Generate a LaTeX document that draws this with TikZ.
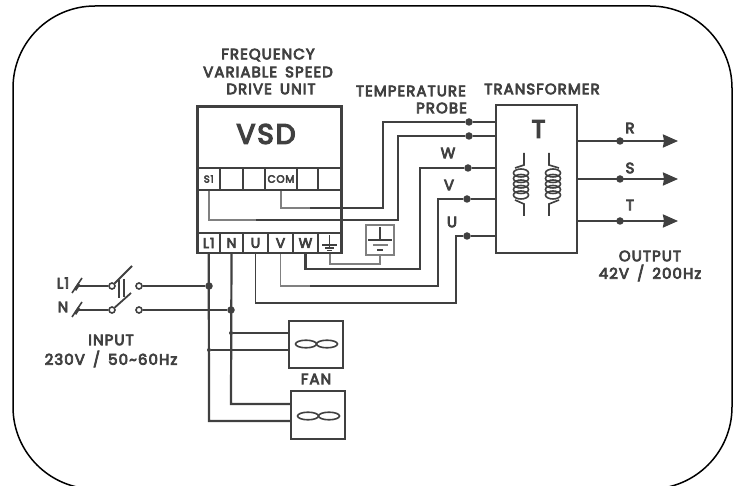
\documentclass[tikz,border=0pt]{standalone}
\usepackage{fontspec}
\setmainfont{Poppins}[LetterSpace=7,FakeBold=5,WordSpace=1.6]
\usepackage{tikz}
\definecolor{ink}{HTML}{404040}
\definecolor{pale}{HTML}{808080}
\tikzset{
  wire/.style={draw=ink,line width=2.2pt},
  palewire/.style={draw=pale,line width=1.5pt},
  unit/.style={draw=ink,line width=2.8pt,fill=white,inner sep=0pt},
  cell/.style={draw=ink,line width=2.2pt,inner sep=0pt,text=ink,font=\fontsize{14}{14}\selectfont},
  label/.style={text=ink,inner sep=0pt,align=center,font=\fontsize{15}{17}\selectfont},
  wiredot/.style={circle,fill=ink,inner sep=0pt,minimum size=7.5pt},
  smalldot/.style={circle,fill=ink,inner sep=0pt,minimum size=4pt},
  contact/.style={circle,draw=ink,line width=1.6pt,fill=white,inner sep=0pt,minimum size=6pt},
  outarrow/.style={wire,-{Stealth[length=15pt,width=13pt,inset=1pt]}},
}
\usetikzlibrary{arrows.meta}
\begin{document}
\begin{tikzpicture}[x=1pt,y=-1pt]
  \clip (0,0) rectangle (737,486);
  \fill[white] (0,0) rectangle (737,486);
  \draw[black,line width=1.5pt,rounded corners=82pt] (13,6) rectangle (732,489);
  % drive unit
  \node[unit,minimum width=144pt,minimum height=146.5pt] (vsd) at (269.5,179.75) {};
  \node[text=ink,font=\fontsize{28}{28}\selectfont,inner sep=0pt] (vsdname) at (266,134) {VSD};
  \node[cell,minimum width=22.5pt,minimum height=22pt] (s1) at (208.75,179) {\fontsize{10}{10}\selectfont S1};
  \node[cell,minimum width=23pt,minimum height=22pt] (blanka) at (231.5,179) {};
  \node[cell,minimum width=22pt,minimum height=22pt] (blankb) at (254,179) {};
  \node[cell,minimum width=32pt,minimum height=22pt] (com) at (281,179) {\fontsize{10.5}{10}\selectfont COM};
  \node[cell,minimum width=21pt,minimum height=22pt] (blankc) at (307.5,179) {};
  \node[cell,minimum width=23.5pt,minimum height=22pt] (blankd) at (329.75,179) {};
  \node[cell,minimum width=22.5pt,minimum height=20pt] (tl) at (208.75,243) {L1};
  \node[cell,minimum width=23pt,minimum height=20pt] (tn) at (231.5,243) {N};
  \node[cell,minimum width=25pt,minimum height=20pt] (tu) at (255.5,243) {U};
  \node[cell,minimum width=25pt,minimum height=20pt] (tv) at (280.5,243) {V};
  \node[cell,minimum width=25pt,minimum height=20pt] (tw) at (305.5,243) {W};
  \node[cell,minimum width=23.5pt,minimum height=20pt] (te) at (329.75,243) {};
  \draw[wire,line width=1.3pt] (te.north) ++(0,3) -- ++(0,14);
  \draw[wire,line width=1.3pt] (322,245) -- (337,245);
  \draw[wire,line width=1.3pt] (325,248) -- (334,248);
  \draw[wire,line width=1.8pt] (327,250.5) -- (332,250.5);
  % transformer
  \node[unit,minimum width=81pt,minimum height=148pt] (trafo) at (536.5,179) {};
  \node[text=ink,font=\fontsize{25}{25}\selectfont,inner sep=0pt] (trafoname) at (538.5,129) {T};
  \draw[wire,line width=1.6pt] (524,153) -- (524,165) -- (515,168);
  \draw[wire,line width=1.6pt] (524,216) -- (524,204) -- (515,200);
  \draw[wire,line width=1.6pt] (549,153) -- (549,165) -- (559,168);
  \draw[wire,line width=1.6pt] (549,216) -- (549,204) -- (559,200);
  \foreach \y in {173,178.5,184,189.5,195} {
    \draw[wire,line width=1.6pt] (521,\y) ellipse (7.5 and 4);
    \draw[wire,line width=1.6pt] (553,\y) ellipse (7.5 and 4);
  }
  % earth bar
  \node[draw=pale,line width=1.8pt,minimum width=28pt,minimum height=30pt,inner sep=0pt] (earth) at (380,240) {};
  \draw[wire,line width=1.4pt] (earth.north) ++(0,3) -- (380,240);
  \draw[wire,line width=1.6pt] (368,240) -- (392,240);
  \draw[palewire] (373,245) -- (388,245);
  \draw[wire,line width=1.3pt] (377,250) -- (383,250);
  \coordinate (earthbend) at (380,264);
  \draw[palewire] (te.south) |- (earthbend) -- (earth.south);
  % dots on the transformer side
  \node[wiredot] (dota) at (469,122) {};
  \node[wiredot] (dotb) at (469,136) {};
  \node[wiredot] (dotw) at (468,168) {};
  \node[wiredot] (dotv) at (467,199) {};
  \node[wiredot] (dotu) at (467,236) {};
  % control wires
  \coordinate (coma) at (310,208);
  \coordinate (comb) at (383,208);
  \draw[palewire] (com.south) |- (coma);
  \draw[wire] (coma) -- (comb) |- (dota) -- (dota-|trafo.west);
  \coordinate (sa) at (256,220);
  \coordinate (sb) at (398,220);
  \draw[palewire] (s1.south) |- (sa);
  \draw[wire] (sa) -- (sb) |- (dotb) -- (dotb-|trafo.west);
  % motor wires
  \coordinate (wa) at (330,269);
  \coordinate (wb) at (420,269);
  \draw[wire] (tw.south) |- (wa) -- (wb) |- (dotw) -- (dotw-|trafo.west);
  \coordinate (va) at (310,286);
  \coordinate (vb) at (438,286);
  \draw[palewire] (tv.south) |- (va);
  \draw[wire] (va) -- (vb) |- (dotv) -- (dotv-|trafo.west);
  \coordinate (ua) at (285,303);
  \coordinate (ub) at (456,303);
  \draw[wire,line width=1.8pt] (tu.south) |- (ua);
  \draw[wire] (ua) -- (ub) |- (dotu) -- (dotu-|trafo.west);
  % outputs
  \node[wiredot] (dotr) at (620,141) {};
  \node[wiredot] (dots) at (620,179) {};
  \node[wiredot] (dott) at (620,221) {};
  \coordinate (outr) at (678,141);
  \coordinate (outs) at (678,179);
  \coordinate (outt) at (678,221);
  \draw[outarrow] (dotr-|trafo.east) -- (outr);
  \draw[outarrow] (dots-|trafo.east) -- (outs);
  \draw[outarrow] (dott-|trafo.east) -- (outt);
  % fans
  \node[unit,line width=2.2pt,minimum width=54pt,minimum height=47pt] (fana) at (316,344.5) {};
  \node[unit,line width=2.2pt,minimum width=54pt,minimum height=48pt] (fanb) at (318,415) {};
  \draw[wire,line width=1.6pt] (306,344) ellipse (10.5 and 3.8);
  \draw[wire,line width=1.6pt] (327,344) ellipse (10.5 and 3.8);
  \draw[wire,line width=1.6pt] (308,416) ellipse (10.5 and 3.8);
  \draw[wire,line width=1.6pt] (329,416) ellipse (10.5 and 3.8);
  % supply
  \node[contact] (swla) at (112,286) {};
  \node[contact] (swlb) at (139,286) {};
  \node[contact] (swna) at (112,310) {};
  \node[contact] (swnb) at (139,310) {};
  \coordinate (inl) at (77,286);
  \coordinate (inn) at (77,310);
  \node[wiredot] (dotl) at (209,286) {};
  \node[wiredot] (dotn) at (231,310) {};
  \coordinate (fanbl) at (209,421);
  \coordinate (fanbn) at (231,404);
  \node[smalldot] (dotfa) at (231,333) {};
  \node[smalldot] (dotfb) at (209,350) {};
  \draw[wire] (inl) -- (swla);
  \draw[wire] (inn) -- (swna);
  \draw[wire] (swlb) -- (dotl);
  \draw[wire] (swnb) -- (dotn);
  \draw[wire] (tl.south) -- (fanbl) -- (fanbl-|fanb.west);
  \draw[wire] (tn.south) -- (fanbn) -- (fanbn-|fanb.west);
  \draw[wire] (dotfa) -- (dotfa-|fana.west);
  \draw[wire] (dotfb) -- (dotfb-|fana.west);
  \draw[wire,line width=1.6pt] (72,293) -- (82,278);
  \draw[wire,line width=1.6pt] (72,317) -- (82,302);
  \draw[wire,line width=3pt] (75,290) -- (79,284);
  \draw[wire,line width=3pt] (75,314) -- (79,308);
  \draw[wire,line width=1.8pt] (swla) -- (132,266);
  \draw[wire,line width=1.8pt] (swna) -- (131,293);
  \draw[wire,line width=1.6pt] (119,280) -- (119,298);
  \draw[wire,line width=1.6pt] (124,279) -- (124,297);
  % labels
  \node[label] (titlea) at (268,55) {FREQUENCY};
  \node[label] (titleb) at (268,72) {VARIABLE SPEED};
  \node[label] (titlec) at (271,89) {DRIVE UNIT};
  \node[label,anchor=east] (proba) at (466,91) {TEMPERATURE};
  \node[label,anchor=east] (probb) at (467,108) {PROBE};
  \node[label] (trafotitle) at (542,89) {TRANSFORMER};
  \node[label] (labw) at (448,153) {W};
  \node[label] (labv) at (449,185) {V};
  \node[label] (labu) at (452,222) {U};
  \node[label] (labr) at (630,128) {R};
  \node[label] (labs) at (630,168) {S};
  \node[label] (labt) at (630,205) {T};
  \node[label] (outa) at (650,256) {OUTPUT};
  \node[label] (outb) at (650,273) {42V / 200Hz};
  \node[label] (lina) at (63,283) {L1};
  \node[label] (linn) at (63,307) {N};
  \node[label] (ina) at (111,340) {INPUT};
  \node[label] (inb) at (111,359) {230V / 50\char`~60Hz};
  \node[label] (fanname) at (316,379) {FAN};
\end{tikzpicture}
\end{document}
